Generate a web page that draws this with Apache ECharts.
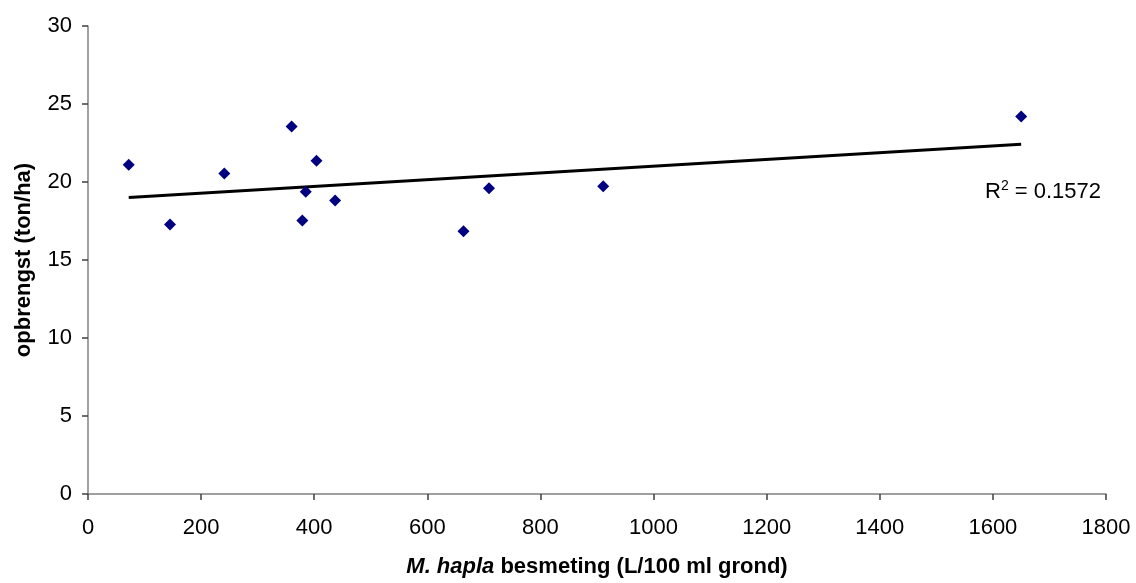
<!DOCTYPE html>
<html>
<head>
<meta charset="utf-8">
<script src="https://cdn.jsdelivr.net/npm/echarts@6/dist/echarts.min.js"></script>
<style>
  html, body { margin: 0; padding: 0; background: #fff; }
  #chart { width: 1136px; height: 583px; }
</style>
</head>
<body>
<div id="chart"></div>
<script>
// Data
const besmeting = [72, 145, 241, 360, 404, 385, 379, 437, 664, 709, 911, 1650];
const opbrengst = [21.1, 17.27, 20.54, 23.56, 21.37, 19.37, 17.53, 18.81, 16.85, 19.6, 19.73, 24.2];
const xTicks = [0, 200, 400, 600, 800, 1000, 1200, 1400, 1600, 1800];
const yTicks = [0, 5, 10, 15, 20, 25, 30];
const r2Label = 'R{sup|2} = 0.1572';

// Linear trendline (least squares) from the data
const n = besmeting.length;
const mx = besmeting.reduce((a, b) => a + b, 0) / n;
const my = opbrengst.reduce((a, b) => a + b, 0) / n;
let sxy = 0, sxx = 0;
for (let i = 0; i < n; i++) {
  sxy += (besmeting[i] - mx) * (opbrengst[i] - my);
  sxx += (besmeting[i] - mx) * (besmeting[i] - mx);
}
const slope = sxy / sxx;
const intercept = my - slope * mx;
const xmin = Math.min(...besmeting), xmax = Math.max(...besmeting);
const trend = [[xmin, intercept + slope * xmin], [xmax, intercept + slope * xmax]];

const font = '"Liberation Sans", Arial, sans-serif';
const chart = echarts.init(document.getElementById('chart'));
chart.setOption({
  animation: false,
  backgroundColor: '#fff',
  grid: { left: 88, right: 30, top: 26, bottom: 88, containLabel: false },
  xAxis: {
    type: 'value',
    min: xTicks[0], max: xTicks[xTicks.length - 1], interval: 200,
    name: '{i|M. hapla} besmeting (L/100 ml grond)',
    nameLocation: 'middle', nameGap: 62,
    nameTextStyle: {
      fontFamily: font, fontSize: 22, fontWeight: 'bold', color: '#000',
      rich: { i: { fontFamily: font, fontSize: 22, fontWeight: 'bold', fontStyle: 'italic', color: '#000' } }
    },
    axisLine: { show: true, onZero: false, lineStyle: { color: '#808080', width: 1.5 } },
    axisTick: { show: true, inside: false, length: 6, lineStyle: { color: '#404040', width: 1.5 } },
    axisLabel: { fontFamily: font, fontSize: 22, color: '#000', margin: 23, formatter: v => String(v) },
    splitLine: { show: false }
  },
  yAxis: {
    type: 'value',
    min: yTicks[0], max: yTicks[yTicks.length - 1], interval: 5,
    name: 'opbrengst (ton/ha)',
    nameLocation: 'middle', nameGap: 53, nameRotate: 90,
    nameTextStyle: { fontFamily: font, fontSize: 22, fontWeight: 'bold', color: '#000' },
    axisLine: { show: true, onZero: false, lineStyle: { color: '#808080', width: 1.5 } },
    axisTick: { show: true, inside: false, length: 6, lineStyle: { color: '#404040', width: 1.5 } },
    axisLabel: { fontFamily: font, fontSize: 22, color: '#000', margin: 16, formatter: v => String(v) },
    splitLine: { show: false }
  },
  series: [
    {
      type: 'line',
      data: trend,
      symbol: 'none',
      lineStyle: { color: '#000', width: 3 },
      z: 2,
      silent: true
    },
    {
      type: 'scatter',
      data: besmeting.map((x, i) => [x, opbrengst[i]]),
      symbol: 'diamond',
      symbolSize: [12, 12],
      itemStyle: { color: '#000080', opacity: 1 },
      z: 3
    }
  ],
  graphic: [{
    type: 'text',
    left: 985,
    top: 179,
    style: {
      text: r2Label,
      font: '22px ' + font,
      fill: '#000',
      rich: {
        sup: { fontSize: 14, fontFamily: font, fill: '#000', padding: [0, 0, 12, 0] }
      }
    }
  }]
});
</script>
</body>
</html>
